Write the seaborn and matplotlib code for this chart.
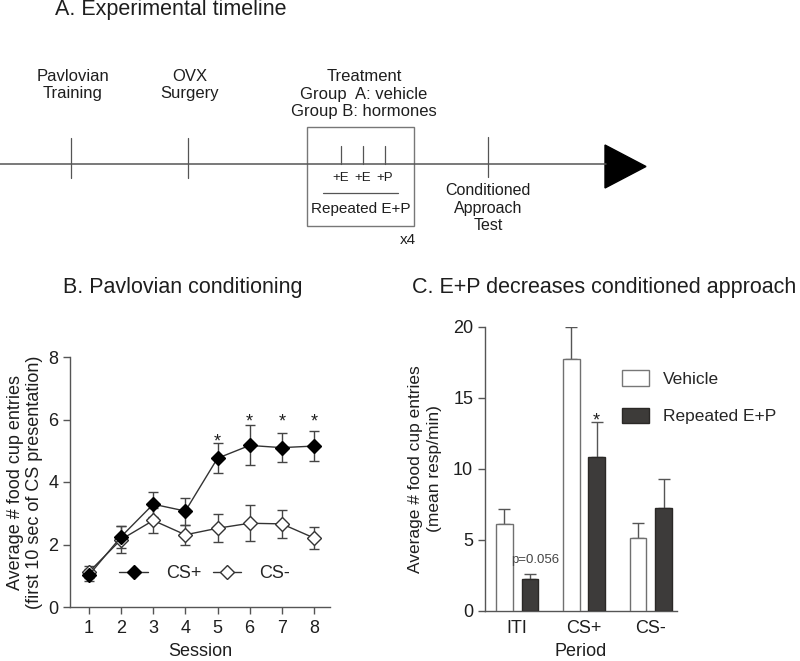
import numpy as np
import pandas as pd
import matplotlib
matplotlib.use("Agg")
import matplotlib.pyplot as plt
import seaborn as sns
from matplotlib.patches import Rectangle, Polygon, Patch

# ---------------- data ----------------
sessions = [1, 2, 3, 4, 5, 6, 7, 8]
cs_plus_mean = [1.02, 2.25, 3.29, 3.07, 4.76, 5.17, 5.10, 5.15]
cs_plus_sem = [0.20, 0.35, 0.40, 0.43, 0.48, 0.64, 0.47, 0.49]
cs_minus_mean = [1.12, 2.16, 2.77, 2.31, 2.52, 2.68, 2.66, 2.21]
cs_minus_sem = [0.18, 0.42, 0.40, 0.32, 0.45, 0.58, 0.45, 0.36]
sig_sessions = [5, 6, 7, 8]
sig_heights = [5.46, 6.12, 6.12, 6.12]

periods = ["ITI", "CS+", "CS-"]
groups = ["Vehicle", "Repeated E+P"]
vehicle_mean = [6.1, 17.7, 5.15]
vehicle_sem = [1.05, 2.3, 1.05]
ep_mean = [2.2, 10.8, 7.25]
ep_sem = [0.35, 2.5, 2.0]

timeline_events = ["Pavlovian\nTraining", "OVX\nSurgery", "Conditioned\nApproach\nTest"]
treatment_text = "Treatment\nGroup  A: vehicle\nGroup B: hormones"
injections = ["+E", "+E", "+P"]

# ---------------- style ----------------
sns.set_style("ticks")
plt.rcParams["font.family"] = ["Liberation Sans", "DejaVu Sans"]
TXT = "#1e1e1e"
AX = "#555555"
plt.rcParams.update({
    "axes.edgecolor": AX, "xtick.color": AX, "ytick.color": AX,
    "xtick.labelcolor": TXT, "ytick.labelcolor": TXT, "axes.labelcolor": TXT,
    "axes.linewidth": 1.0, "xtick.major.width": 1.0, "ytick.major.width": 1.0,
    "xtick.major.size": 5, "ytick.major.size": 5,
})

W, H = 800, 661
fig = plt.figure(figsize=(8, 6.61), dpi=100)

def fy(py):
    return 1 - py / H

# ---------------- panel A (diagram) ----------------
axA = fig.add_axes([0, 0, 1, 1])
axA.set_xlim(0, W)
axA.set_ylim(H, 0)
axA.axis("off")
axA.text(55, 10, "A. Experimental timeline", fontsize=15.5, color=TXT, va="center", ha="left")
LC = "#555555"
axA.plot([0, 606], [164, 164], color=LC, lw=1.1)
axA.add_patch(Polygon([[605, 145], [605, 188], [646, 166.5]], closed=True, color="black"))
for xpos, lab in zip([71, 188], timeline_events[:2]):
    axA.plot([xpos, xpos], [138, 178], color=LC, lw=0.9)
    axA.text(xpos + 2, 85, lab, ha="center", va="center", fontsize=12, color=TXT, linespacing=1.15)
axA.plot([488, 488], [137, 177], color=LC, lw=0.9)
axA.text(488, 208, timeline_events[2], ha="center", va="center", fontsize=11.5, color=TXT,
         linespacing=1.18)
axA.text(364, 94, treatment_text, ha="center", va="center", fontsize=12, color=TXT, linespacing=1.2)
axA.add_patch(Rectangle((307, 127), 107, 99, fill=False, edgecolor="#777777", lw=1.0))
for xpos, lab in zip([341, 363, 385], injections):
    axA.plot([xpos, xpos], [146, 164], color=LC, lw=0.9)
    axA.text(xpos, 178, lab, ha="center", va="center", fontsize=9.5, color=TXT)
axA.plot([323, 398], [193, 193], color=LC, lw=0.9)
axA.text(361, 209, "Repeated E+P", ha="center", va="center", fontsize=11, color=TXT)
axA.text(408, 240, "x4", ha="center", va="center", fontsize=11, color=TXT)

# ---------------- panel B ----------------
axB = fig.add_axes([70 / W, 54 / H, 260 / W, 250 / H])
axB.errorbar(sessions, cs_plus_mean, yerr=cs_plus_sem, fmt="none", ecolor="#444444",
             elinewidth=1, capsize=3.5, capthick=1, zorder=2)
axB.errorbar(sessions, cs_minus_mean, yerr=cs_minus_sem, fmt="none", ecolor="#444444",
             elinewidth=1, capsize=3.5, capthick=1, zorder=2)
sns.lineplot(x=sessions, y=cs_plus_mean, ax=axB, color="#333333", linewidth=1,
             marker="D", markersize=7, markerfacecolor="black", markeredgecolor="black",
             markeredgewidth=1, label="CS+", zorder=4)
sns.lineplot(x=sessions, y=cs_minus_mean, ax=axB, color="#333333", linewidth=1,
             marker="D", markersize=7, markerfacecolor="white", markeredgecolor="#333333",
             markeredgewidth=1, label="CS-", zorder=3)
for s, h in zip(sig_sessions, sig_heights):
    axB.annotate("*", xy=(s, h), xytext=(0, -7.5), textcoords="offset points",
                 ha="center", va="baseline", fontsize=13, color=TXT)
axB.set_xlim(0.41, 8.5)
axB.set_ylim(0, 8)
axB.set_xticks(sessions)
axB.set_yticks([0, 2, 4, 6, 8])
axB.tick_params(labelsize=13)
axB.tick_params(axis="x", pad=4.5)
axB.set_xlabel("Session", fontsize=13, labelpad=4)
axB.set_ylabel("Average # food cup entries\n(first 10 sec of CS presentation)", fontsize=13,
               linespacing=1.15)
sns.despine(ax=axB)
h, l = axB.get_legend_handles_labels()
axB.legend(h, l, ncol=2, frameon=False, loc="center left", bbox_to_anchor=(0.19, 0.132),
           borderpad=0, borderaxespad=0, handlelength=1.6, handletextpad=1.0,
           columnspacing=0.6, fontsize=13)
fig.text(63 / W, fy(287), "B. Pavlovian conditioning", fontsize=15.5, color=TXT, va="center")

# ---------------- panel C ----------------
axC = fig.add_axes([485 / W, 50.3 / H, 192 / W, 284 / H])
df = pd.DataFrame({
    "Period": periods * 2,
    "Group": [groups[0]] * 3 + [groups[1]] * 3,
    "value": vehicle_mean + ep_mean,
})
DARK = "#3d3b39"
sns.barplot(data=df, x="Period", y="value", hue="Group", hue_order=groups, order=periods,
            palette=["white", DARK], width=0.76, gap=0.35, errorbar=None,
            linewidth=1, edgecolor="#707070", ax=axC, legend=False, zorder=3)
for cont, sems, ec in zip(axC.containers, [vehicle_sem, ep_sem], ["#707070", "#2a2826"]):
    xs = [b.get_x() + b.get_width() / 2 for b in cont]
    ys = [b.get_height() for b in cont]
    for b in cont:
        b.set_edgecolor(ec)
    axC.errorbar(xs, ys, yerr=[np.zeros(len(sems)), sems], fmt="none", ecolor="#555555",
                 elinewidth=1, capsize=4, capthick=1, zorder=2)
star_bar = axC.containers[1][1]
axC.annotate("*", xy=(star_bar.get_x() + star_bar.get_width() / 2, 13.75), xytext=(0, -7.5),
             textcoords="offset points", ha="center", va="baseline", fontsize=13, color=TXT)
axC.text(0.27, 3.57, "p=0.056", ha="center", va="center", fontsize=9.5, color="#444444")
axC.set_xlim(-0.48, 2.39)
axC.set_ylim(0, 20)
axC.set_yticks([0, 5, 10, 15, 20])
axC.tick_params(axis="x", length=0, labelsize=13, pad=7)
axC.tick_params(axis="y", labelsize=13)
axC.set_xlabel("Period", fontsize=13)
axC.set_ylabel("Average # food cup entries\n(mean resp/min)", fontsize=12.5, linespacing=1.3,
               labelpad=8)
sns.despine(ax=axC)
handles = [Patch(facecolor="white", edgecolor="#777777", lw=1, label=groups[0]),
           Patch(facecolor=DARK, edgecolor="#2a2826", lw=1, label=groups[1])]
axC.legend(handles=handles, loc="upper left", bbox_to_anchor=(0.713, 0.8475), frameon=False,
           borderpad=0, borderaxespad=0, handlelength=1.55, handleheight=1.0,
           handletextpad=0.8, labelspacing=1.2, fontsize=12.5)
fig.text(412 / W, fy(287), "C. E+P decreases conditioned approach", fontsize=15.5, color=TXT,
         va="center")

fig.savefig("out.png", dpi=100)
